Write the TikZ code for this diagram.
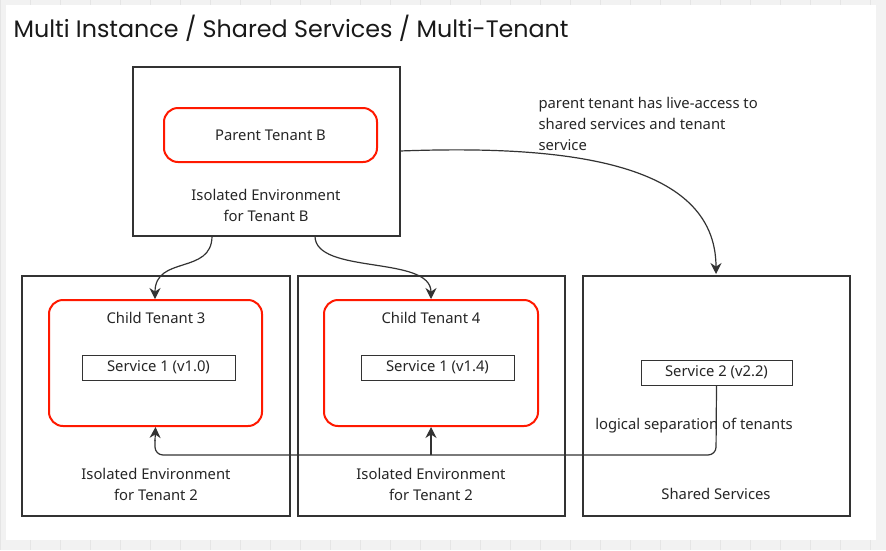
\documentclass[tikz,border=0pt]{standalone}
\usepackage{fontspec}
\setmainfont{Noto Sans}
\newfontfamily\titlefont{Poppins}
\usetikzlibrary{arrows.meta}
\begin{document}
\begin{tikzpicture}[x=1pt,y=-1pt,
  env/.style={draw=black!80,line width=1.2pt},
  red/.style={draw=red!80!orange,line width=2pt,rounded corners=14pt},
  svc/.style={draw=black!80,line width=1pt,font=\fontsize{14.8}{16}\selectfont,inner sep=0pt,text=black!85},
  lbl/.style={font=\fontsize{14.8}{21}\selectfont,align=center,text=black!85},
  conn/.style={draw=black!80,line width=1.2pt,-{Stealth[length=11pt,width=11pt]}}]
\useasboundingbox (0,0) rectangle (886,550);
\fill[black!5] (0,0) rectangle (886,550);
\draw[black!10,line width=0.5pt] (0,0) grid[step=30] (886,550);
\fill[white] (6,5) rectangle (876,540);
\node[anchor=west,font=\titlefont\fontsize{23.8}{26}\selectfont,text=black!90] (title) at (10,28) {Multi Instance / Shared Services / Multi-Tenant};
% top
\draw[env] (133,67) rectangle (400,236);
\node[red,minimum width=213pt,minimum height=54pt,lbl] (parent) at (270.5,135) {Parent Tenant B};
\node[lbl] (topl) at (266,205) {Isolated Environment\\for Tenant B};
% left
\draw[env] (22,276) rectangle (290,516);
\node[red,minimum width=213pt,minimum height=126pt] (c3) at (155.5,363) {};
\node[lbl] (c3l) at (156,318) {Child Tenant 3};
\node[svc,minimum width=153pt,minimum height=25pt] (s1) at (158.5,367.5) {Service 1 (v1.0)};
\node[lbl] (ll) at (156,484) {Isolated Environment\\for Tenant 2};
% middle
\draw[env] (298,276) rectangle (565,516);
\node[red,minimum width=214pt,minimum height=126pt] (c4) at (431,363) {};
\node[lbl] (c4l) at (431,318) {Child Tenant 4};
\node[svc,minimum width=153pt,minimum height=25pt] (s14) at (437.5,367.5) {Service 1 (v1.4)};
\node[lbl] (ml) at (431,484) {Isolated Environment\\for Tenant 2};
% right
\draw[env] (583,276) rectangle (850,516);
\node[svc,minimum width=151pt,minimum height=25pt] (s2) at (716.5,372.5) {Service 2 (v2.2)};
\node[lbl] (ss) at (716,494) {Shared Services};
\node[lbl,align=left,anchor=north west] (note) at (535,94) {parent tenant has live-access to\\shared services and tenant\\service};
% arrows
\coordinate (a1) at (212,236); \coordinate (a2) at (315,236); \coordinate (a3) at (400,151);
\coordinate (e1) at (155,299); \coordinate (e2) at (431,299); \coordinate (e3) at (716,274);
\draw[conn] (a1) .. controls (212,275) and (155,255) .. (e1);
\draw[conn] (a2) .. controls (315,275) and (431,255) .. (e2);
\draw[conn] (a3) .. controls (560,145) and (716,160) .. (e3);
\draw[draw=black!80,line width=1.2pt,rounded corners=8pt] (s2.south) -- (716,455) -- (155,455) -- (155,440);
\draw[conn] (155,441) -- (c3.south);
\draw[conn] (431,455) -- (c4.south);
\node[lbl] (logsep) at (694,426) {logical separation of tenants};
\end{tikzpicture}
\end{document}
